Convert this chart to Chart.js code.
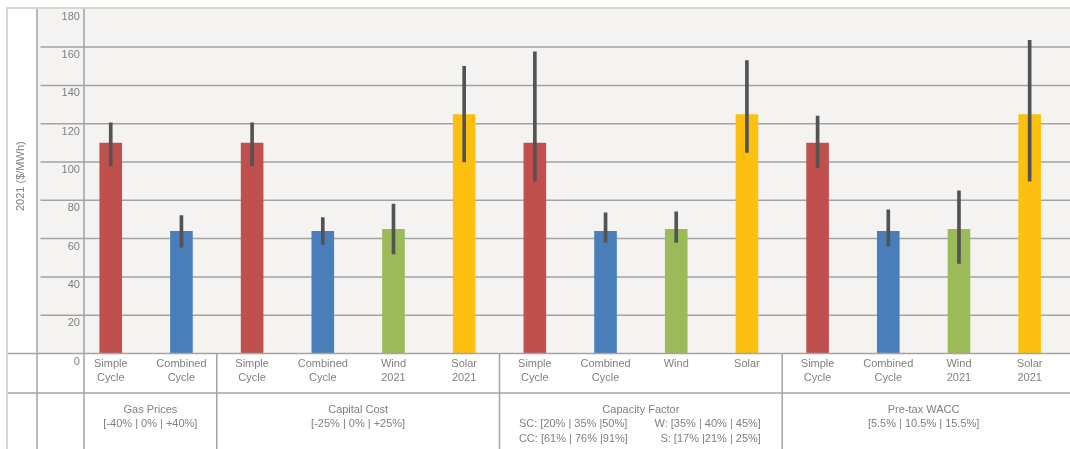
<!DOCTYPE html>
<html>
<head>
<meta charset="utf-8">
<script src="https://cdn.jsdelivr.net/npm/chart.js@4.4.1/dist/chart.umd.min.js"></script>
<style>
  html, body { margin: 0; padding: 0; background: #fff; }
  #wrap { position: relative; width: 1070px; height: 449px; }
</style>
</head>
<body>
<div id="wrap"><canvas id="lcoe"></canvas></div>
<script>
// LCOE sensitivity chart - base case bars with low / high whiskers
const CATEGORIES = [
  ["Simple", "Cycle"], ["Combined", "Cycle"],
  ["Simple", "Cycle"], ["Combined", "Cycle"], ["Wind", "2021"], ["Solar", "2021"],
  ["Simple", "Cycle"], ["Combined", "Cycle"], ["Wind"], ["Solar"],
  ["Simple", "Cycle"], ["Combined", "Cycle"], ["Wind", "2021"], ["Solar", "2021"]
];
const TECH = ["SC", "CC", "SC", "CC", "W", "S", "SC", "CC", "W", "S", "SC", "CC", "W", "S"];
const BASE = [110, 64, 110, 64, 65, 125, 110, 64, 65, 125, 110, 64, 65, 125];
const LOW  = [98, 55.5, 98, 57, 52, 100, 90, 58, 58, 105, 97, 56, 47, 90];
const HIGH = [120.5, 72, 120.5, 71, 78, 150, 157.5, 73.5, 74, 153, 124, 75, 85, 163.5];
const Y_TICKS = [0, 20, 40, 60, 80, 100, 120, 140, 160, 180];
const Y_TITLE = "2021 ($/MWh)";

const GROUP_SIZES = [2, 4, 4, 4];
const GROUP_TITLES = ["Gas Prices", "Capital Cost", "Capacity Factor", "Pre-tax WACC"];
const GROUP_NOTES = [
  ["[-40% | 0% | +40%]"],
  ["[-25% | 0% | +25%]"],
  [["SC: [20% | 35% |50%]", "W: [35% | 40% | 45%]"], ["CC: [61% | 76% |91%]", "S: [17% |21% | 25%]"]],
  ["[5.5% | 10.5% | 15.5%]"]
];

const TECH_COLORS = { SC: "#c0504d", CC: "#4a7ebb", W: "#9bbb59", S: "#fdc010" };
const TEXT = "#7f7f7f";
const GRID = "#a3a3a3";
const PANEL = "#f4f3f1";
const EDGE = "#dcd5ce";
// table frame around the chart
const FRAME = { borderX: 7, borderY: 8, titleCol: 37, axisLine: 84, rowLine: 393, gridStart: 40.5 };

Chart.defaults.font.family = "'Liberation Sans', Arial, sans-serif";
Chart.defaults.font.size = 11;
Chart.defaults.color = TEXT;

const framePlugin = {
  id: "frame",
  beforeDraw(chart) {
    const { ctx, chartArea: a } = chart;
    ctx.save();
    ctx.fillStyle = "#fff";
    ctx.fillRect(0, 0, chart.width, chart.height);
    ctx.fillStyle = PANEL;
    ctx.fillRect(FRAME.titleCol, FRAME.borderY, chart.width - FRAME.titleCol, a.bottom - FRAME.borderY);
    ctx.restore();
  },
  beforeDatasetsDraw(chart) {
    // horizontal grid lines, from the tick column to the table edge
    const { ctx, scales: { y } } = chart;
    ctx.save();
    ctx.lineWidth = 1.5;
    ctx.strokeStyle = GRID;
    ctx.beginPath();
    Y_TICKS.slice(1, -1).forEach(v => {
      const py = y.getPixelForValue(v);
      ctx.moveTo(FRAME.gridStart, py); ctx.lineTo(chart.width, py);
    });
    ctx.stroke();
    ctx.restore();
  },
  afterDraw(chart) {
    const { ctx, chartArea: a, scales: { x, y } } = chart;
    const W = chart.width, H = chart.height;
    const base = y.getPixelForValue(0);
    const step = x.getPixelForValue(1) - x.getPixelForValue(0);
    ctx.save();
    ctx.lineWidth = 1.5;
    ctx.strokeStyle = GRID;
    ctx.beginPath();
    ctx.moveTo(FRAME.titleCol, FRAME.borderY); ctx.lineTo(FRAME.titleCol, H);
    ctx.moveTo(FRAME.axisLine, FRAME.borderY); ctx.lineTo(FRAME.axisLine, H);
    ctx.moveTo(FRAME.borderX, base); ctx.lineTo(W, base);
    ctx.moveTo(FRAME.borderX, FRAME.rowLine); ctx.lineTo(W, FRAME.rowLine);
    // group separators
    let start = 0;
    const centers = [];
    GROUP_SIZES.forEach((n, g) => {
      const left = Math.max(x.getPixelForValue(start) - step / 2, FRAME.axisLine);
      const right = x.getPixelForValue(start + n - 1) + step / 2;
      centers.push((left + right) / 2);
      if (g < GROUP_SIZES.length - 1) {
        ctx.moveTo(right, base); ctx.lineTo(right, H);
      }
      start += n;
    });
    ctx.stroke();

    // outer border
    ctx.strokeStyle = EDGE;
    ctx.lineWidth = 2;
    ctx.beginPath();
    ctx.moveTo(FRAME.borderX, H); ctx.lineTo(FRAME.borderX, FRAME.borderY); ctx.lineTo(W, FRAME.borderY);
    ctx.stroke();

    // group labels
    ctx.fillStyle = TEXT;
    ctx.font = "11px 'Liberation Sans', Arial, sans-serif";
    ctx.textBaseline = "middle";
    centers.forEach((cx, g) => {
      ctx.textAlign = "center";
      ctx.fillText(GROUP_TITLES[g], cx, FRAME.rowLine + 17);
      GROUP_NOTES[g].forEach((note, i) => {
        const ly = FRAME.rowLine + 31 + i * 14.5;
        if (Array.isArray(note)) {
          ctx.textAlign = "left";
          ctx.fillText(note[0], cx - 122, ly);
          ctx.textAlign = "right";
          ctx.fillText(note[1], cx + 120, ly);
        } else {
          ctx.textAlign = "center";
          ctx.fillText(note, cx, ly);
        }
      });
    });

    // y axis title
    ctx.translate(21, (a.top + a.bottom) / 2 - 5);
    ctx.rotate(-Math.PI / 2);
    ctx.textAlign = "center";
    ctx.fillText(Y_TITLE, 0, 0);
    ctx.restore();
  }
};

new Chart(document.getElementById("lcoe"), {
  type: "bar",
  data: {
    labels: CATEGORIES,
    datasets: [
      {
        label: "Range",
        data: LOW.map((lo, i) => [lo, HIGH[i]]),
        backgroundColor: "#535353",
        barThickness: 3,
        order: 0
      },
      {
        label: "Base",
        data: BASE,
        backgroundColor: TECH.map(t => TECH_COLORS[t]),
        barPercentage: 0.32,
        categoryPercentage: 1,
        order: 1
      }
    ]
  },
  plugins: [framePlugin],
  options: {
    responsive: true,
    maintainAspectRatio: false,
    animation: false,
    layout: { padding: { left: 0, right: 5, top: 8.8, bottom: 0 } },
    plugins: { legend: { display: false }, tooltip: { enabled: false } },
    scales: {
      x: {
        stacked: true,
        grid: { display: false, drawTicks: false },
        border: { display: false },
        ticks: { autoSkip: false, maxRotation: 0, padding: 3, color: TEXT, font: { size: 11, lineHeight: 1.3 } },
        afterFit: s => { s.height = 95.5; }
      },
      y: {
        stacked: false,
        min: 0,
        max: 180,
        afterBuildTicks: s => { s.ticks = Y_TICKS.map(v => ({ value: v })); },
        border: { display: false },
        grid: { display: false },
        // mirrored so the labels are not clipped to the narrow axis box
        ticks: { mirror: true, crossAlign: "far", padding: -13.8, labelOffset: 8, color: TEXT, font: { size: 11 } },
        afterFit: s => { s.width = 75.4; }
      }
    }
  }
});
</script>
</body>
</html>
